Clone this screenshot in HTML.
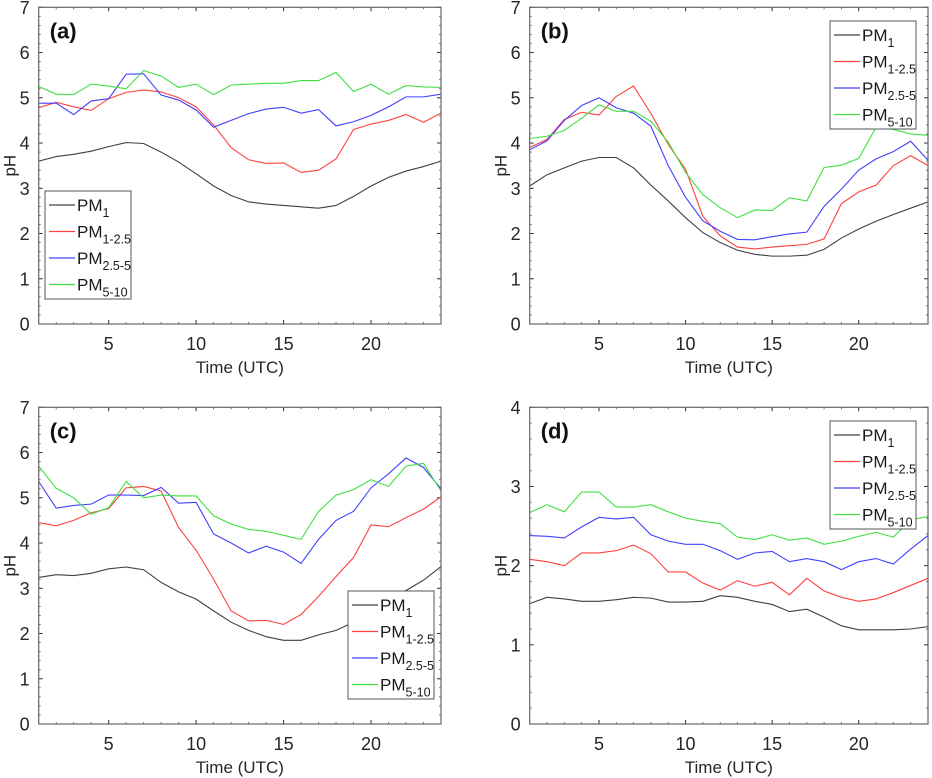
<!DOCTYPE html>
<html><head><meta charset="utf-8"><style>
html,body{margin:0;padding:0;background:#fff;width:932px;height:778px;overflow:hidden}
svg{display:block;font-family:"Liberation Sans",Arial,sans-serif}
</style></head><body>
<svg id="fig" width="932" height="778" viewBox="0 0 932 778" xmlns="http://www.w3.org/2000/svg"></svg>
<script>
const hours = [1,2,3,4,5,6,7,8,9,10,11,12,13,14,15,16,17,18,19,20,21,22,23,24];
const seriesNames = ["PM1","PM1-2.5","PM2.5-5","PM5-10"];
const seriesColors = ["#404040","#ff4040","#4040ff","#40e040"];
const xTicks = [5,10,15,20];
const yTicks7 = [0,1,2,3,4,5,6,7];
const yTicks4 = [0,1,2,3,4];

const a_pm1 = [3.6,3.7,3.75,3.82,3.92,4.01,3.99,3.8,3.58,3.32,3.05,2.84,2.7,2.65,2.62,2.59,2.56,2.62,2.82,3.05,3.24,3.38,3.48,3.6];
const a_pm125 = [4.78,4.9,4.8,4.72,4.98,5.12,5.17,5.13,5.0,4.8,4.4,3.9,3.63,3.55,3.56,3.35,3.4,3.65,4.3,4.42,4.5,4.63,4.46,4.66];
const a_pm255 = [4.88,4.88,4.63,4.93,4.98,5.52,5.53,5.06,4.95,4.73,4.35,4.5,4.65,4.75,4.79,4.66,4.74,4.38,4.47,4.61,4.8,5.02,5.02,5.08];
const a_pm510 = [5.25,5.08,5.07,5.3,5.26,5.2,5.6,5.48,5.23,5.3,5.07,5.28,5.3,5.32,5.32,5.38,5.38,5.56,5.14,5.3,5.08,5.27,5.24,5.23];

const b_pm1 = [3.05,3.3,3.45,3.6,3.68,3.68,3.45,3.07,2.72,2.35,2.02,1.8,1.63,1.54,1.5,1.5,1.52,1.65,1.9,2.1,2.27,2.42,2.56,2.7];
const b_pm125 = [3.9,4.08,4.52,4.68,4.62,5.03,5.26,4.65,3.97,3.42,2.38,1.95,1.7,1.66,1.7,1.73,1.76,1.88,2.66,2.92,3.07,3.5,3.72,3.5];
const b_pm255 = [3.85,4.05,4.5,4.83,5.0,4.78,4.66,4.37,3.5,2.8,2.28,2.05,1.87,1.86,1.93,1.99,2.03,2.6,2.98,3.4,3.65,3.81,4.04,3.62];
const b_pm510 = [4.1,4.15,4.28,4.55,4.84,4.7,4.7,4.48,4.02,3.35,2.86,2.57,2.35,2.52,2.51,2.79,2.72,3.46,3.51,3.66,4.35,4.3,4.2,4.17];

const c_pm1 = [3.24,3.3,3.28,3.33,3.43,3.47,3.41,3.13,2.92,2.76,2.5,2.25,2.07,1.93,1.85,1.85,1.97,2.07,2.25,2.45,2.75,2.95,3.18,3.48];
const c_pm125 = [4.45,4.38,4.5,4.67,4.76,5.22,5.25,5.15,4.34,3.84,3.2,2.5,2.28,2.29,2.2,2.42,2.82,3.26,3.68,4.4,4.36,4.56,4.75,5.02];
const c_pm255 = [5.36,4.77,4.83,4.86,5.06,5.06,5.05,5.23,4.88,4.9,4.2,4.0,3.78,3.93,3.8,3.55,4.08,4.5,4.7,5.22,5.53,5.88,5.67,5.2];
const c_pm510 = [5.7,5.21,5.0,4.64,4.78,5.36,5.0,5.06,5.04,5.04,4.6,4.42,4.3,4.26,4.17,4.08,4.7,5.06,5.18,5.4,5.25,5.7,5.76,5.15];

const d_pm1 = [1.52,1.6,1.58,1.55,1.55,1.57,1.6,1.59,1.54,1.54,1.55,1.62,1.6,1.55,1.51,1.42,1.45,1.35,1.24,1.19,1.19,1.19,1.2,1.23];
const d_pm125 = [2.08,2.05,2.0,2.16,2.16,2.19,2.26,2.15,1.92,1.92,1.78,1.69,1.81,1.74,1.79,1.63,1.84,1.68,1.6,1.55,1.58,1.66,1.75,1.84];
const d_pm255 = [2.38,2.37,2.35,2.49,2.61,2.59,2.61,2.39,2.31,2.27,2.27,2.19,2.08,2.16,2.18,2.05,2.09,2.05,1.95,2.05,2.09,2.02,2.21,2.38];
const d_pm510 = [2.67,2.77,2.68,2.93,2.93,2.74,2.74,2.77,2.68,2.6,2.56,2.53,2.36,2.33,2.39,2.32,2.35,2.27,2.31,2.37,2.42,2.36,2.58,2.62];

const NS="http://www.w3.org/2000/svg";
const svg=document.getElementById('fig');
function mk(tag,attrs,parent){const e=document.createElementNS(NS,tag);for(const k in attrs)e.setAttribute(k,attrs[k]);(parent||svg).appendChild(e);return e;}

function panel(id,letter,L,R,T,B,ymax,yTicks,series,leg){
  const g=mk('g',{});
  
  
  const sx=v=>L+(v-1)*(R-L)/23;
  const sy=v=>B-v*(B-T)/ymax;
  for(let h=1;h<=24;h++){
    const t1=mk('line',{x1:sx(h),x2:sx(h),y1:B,y2:B-2,stroke:'#555','stroke-width':0.8},g);
    
    
    mk('line',{x1:sx(h),x2:sx(h),y1:T,y2:T+2,stroke:'#555','stroke-width':0.8},g);
  }
  for(let v=0;v<=ymax*5;v++){
    const y=sy(v/5);
    mk('line',{x1:L,x2:L+2,y1:y,y2:y,stroke:'#555','stroke-width':0.8},g);
    mk('line',{x1:R,x2:R-2,y1:y,y2:y,stroke:'#555','stroke-width':0.8},g);
  }
  xTicks.forEach(v=>{
    mk('line',{x1:sx(v),x2:sx(v),y1:B,y2:B-4,stroke:'#333','stroke-width':1},g);
    mk('line',{x1:sx(v),x2:sx(v),y1:T,y2:T+4,stroke:'#333','stroke-width':1},g);
    const t=mk('text',{x:sx(v),y:B+26,'text-anchor':'middle','font-size':18,fill:'#262626'},g);
    
    
    t.textContent=v;
  });
  yTicks.forEach(v=>{
    mk('line',{x1:L,x2:L+4,y1:sy(v),y2:sy(v),stroke:'#333','stroke-width':1},g);
    mk('line',{x1:R,x2:R-4,y1:sy(v),y2:sy(v),stroke:'#333','stroke-width':1},g);
    const t=mk('text',{x:L-9,y:sy(v)+6.5,'text-anchor':'end','font-size':18,fill:'#262626'},g);
    
    
    t.textContent=v;
  });
  series.forEach((arr,i)=>{
    const p=mk('polyline',{points:arr.map((v,j)=>sx(hours[j])+','+sy(v)).join(' '),fill:'none',stroke:seriesColors[i],'stroke-width':1.1},g);
    
    
  });
  const fr=mk('rect',{x:L,y:T,width:R-L,height:B-T,fill:'none',stroke:'#666','stroke-width':1.2},g);
  
  
  const lt=mk('text',{x:L+11,y:T+31,'font-size':22,'font-weight':'bold',fill:'#111'},g);
  
  
  lt.textContent='('+letter+')';
  const xt=mk('text',{x:(L+R)/2,y:B+49,'text-anchor':'middle','font-size':17,fill:'#262626'},g);
  
  
  xt.textContent='Time (UTC)';
  const yx=L-23, yy=(T+B)/2;
  const yt=mk('text',{x:yx,y:yy,'text-anchor':'middle','font-size':17,fill:'#262626',transform:'rotate(-90 '+yx+' '+yy+')'},g);
  
  
  yt.textContent='pH';
  const lg=mk('g',{},g);
  
  
  mk('rect',{x:leg[0],y:leg[1],width:86,height:108,fill:'#fff',stroke:'#555','stroke-width':1},lg);
  const subs=['1','1-2.5','2.5-5','5-10'];
  subs.forEach((s,i)=>{
    const y=leg[1]+14+i*26.5;
    const e=mk('g',{},lg);
    
    
    mk('line',{x1:leg[0]+4,x2:leg[0]+30,y1:y,y2:y,stroke:seriesColors[i],'stroke-width':1.2},e);
    const t=mk('text',{x:leg[0]+32,y:y+6,'font-size':17,fill:'#1a1a1a'},e);
    t.textContent='PM';
    const ts=mk('tspan',{dy:6,'font-size':12.5},t);
    ts.textContent=s;
  });
}
panel('a','a',38.7,441,7.3,324,7,yTicks7,[a_pm1,a_pm125,a_pm255,a_pm510],[45,191]);
panel('b','b',529.7,928,7.3,324,7,yTicks7,[b_pm1,b_pm125,b_pm255,b_pm510],[830,21]);
panel('c','c',38.7,441,407.3,724,7,yTicks7,[c_pm1,c_pm125,c_pm255,c_pm510],[348,591]);
panel('d','d',529.7,928,407.3,724,4,yTicks4,[d_pm1,d_pm125,d_pm255,d_pm510],[830,421]);
</script>
</body></html>
